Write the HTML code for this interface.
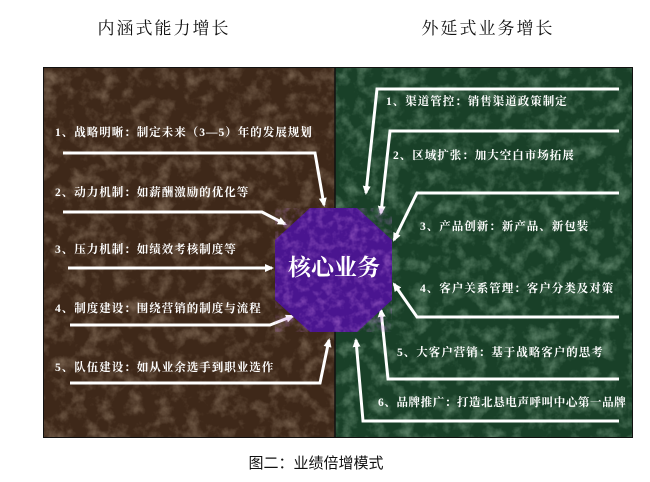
<!DOCTYPE html>
<html><head><meta charset="utf-8"><style>
html,body{margin:0;padding:0;background:#fff;width:650px;height:482px;overflow:hidden}
svg{display:block}
</style></head><body>
<svg width="650" height="482" viewBox="0 0 650 482" xmlns="http://www.w3.org/2000/svg">
<defs>
<filter id="mb" x="0" y="0" width="100%" height="100%">
<feTurbulence type="fractalNoise" baseFrequency="0.07" numOctaves="4" seed="3"/>
<feColorMatrix type="matrix" values="0 0 0 0 0.55  0 0 0 0 0.42  0 0 0 0 0.3  0 0 0 -2 1.1"/>
</filter>
<filter id="mg" x="0" y="0" width="100%" height="100%">
<feTurbulence type="fractalNoise" baseFrequency="0.07" numOctaves="4" seed="7"/>
<feColorMatrix type="matrix" values="0 0 0 0 0.45  0 0 0 0 0.68  0 0 0 0 0.5  0 0 0 -2 1.1"/>
</filter>
<filter id="mp" x="0" y="0" width="100%" height="100%">
<feTurbulence type="fractalNoise" baseFrequency="0.12" numOctaves="3" seed="2"/>
<feColorMatrix type="matrix" values="0 0 0 0 0.5  0 0 0 0 0.2  0 0 0 0 0.7  0 0 0 -1.8 1.0"/>
</filter>
<marker id="ah" markerWidth="10" markerHeight="10" refX="7" refY="4" orient="auto" markerUnits="userSpaceOnUse">
<path d="M0,0 L9,4 L0,8 Z" fill="#fff"/>
</marker>
<clipPath id="cl"><rect x="43" y="67" width="292" height="371"/></clipPath>
<clipPath id="cr"><rect x="335" y="67" width="298" height="371"/></clipPath>
</defs>
<text x="164" y="34" font-family="'Liberation Serif','Noto Serif CJK SC',serif" font-size="17" text-anchor="middle" letter-spacing="2" fill="#111">内涵式能力增长</text>
<text x="488" y="34" font-family="'Liberation Serif','Noto Serif CJK SC',serif" font-size="17" text-anchor="middle" letter-spacing="2" fill="#111">外延式业务增长</text>

<rect x="43" y="67" width="292" height="371" fill="#3e2819"/>
<rect x="43" y="67" width="292" height="371" filter="url(#mb)" clip-path="url(#cl)" opacity="0.45"/>
<rect x="335" y="67" width="298" height="371" fill="#194028"/>
<rect x="335" y="67" width="298" height="371" filter="url(#mg)" clip-path="url(#cr)" opacity="0.45"/>
<rect x="43.5" y="67.5" width="589" height="370" fill="none" stroke="#111" stroke-width="1"/>
<line x1="335" y1="67" x2="335" y2="438" stroke="#111" stroke-width="1.5"/>

<g fill="none" stroke="#fff" stroke-width="3" marker-end="url(#ah)">
<polyline points="63,153 315,153 324,205"/>
<polyline points="63,212 262,212 285,224"/>
<polyline points="68,268 272,268"/>
<polyline points="70,325 270,325 293,316"/>
<polyline points="70,383 320,383 329,340"/>
<polyline points="619,89 377,89 366,193"/>
<polyline points="619,131 390,131 381,213"/>
<polyline points="619,193 417,193 394,240"/>
<polyline points="619,317 417,317 394,284"/>
<polyline points="619,379 388,379 381,310"/>
<polyline points="619,421 363,421 356,340"/>
</g>

<polygon points="310,208 357,208 392,240 392,300 357,332 310,332 275,300 275,240" fill="#4a1590"/>
<polygon points="310,208 357,208 392,240 392,300 357,332 310,332 275,300 275,240" filter="url(#mp)" opacity="0.6"/>
<text x="334" y="275" font-family="'Liberation Serif','Noto Serif CJK SC',serif" font-size="23" font-weight="bold" text-anchor="middle" fill="#fff">核心业务</text>

<g font-family="'Liberation Serif','Noto Serif CJK SC',serif" font-size="11.5" font-weight="bold" fill="#fff" letter-spacing="1">
<text x="55" y="136">1、战略明晰：制定未来（3—5）年的发展规划</text>
<text x="55" y="196">2、动力机制：如薪酬激励的优化等</text>
<text x="55" y="253">3、压力机制：如绩效考核制度等</text>
<text x="55" y="312">4、制度建设：围绕营销的制度与流程</text>
<text x="55" y="371">5、队伍建设：如从业余选手到职业选作</text>
<text x="386" y="105">1、渠道管控：销售渠道政策制定</text>
<text x="393" y="159">2、区域扩张：加大空白市场拓展</text>
<text x="420" y="230">3、产品创新：新产品、新包装</text>
<text x="420" y="292">4、客户关系管理：客户分类及对策</text>
<text x="397" y="356">5、大客户营销：基于战略客户的思考</text>
<text x="378" y="406" letter-spacing="0.6">6、品牌推广：打造北恳电声呼叫中心第一品牌</text>
</g>

<text x="316" y="468" font-family="'Liberation Sans','Noto Sans CJK SC',sans-serif" font-size="15" text-anchor="middle" fill="#111">图二：业绩倍增模式</text>
</svg>
</body></html>
